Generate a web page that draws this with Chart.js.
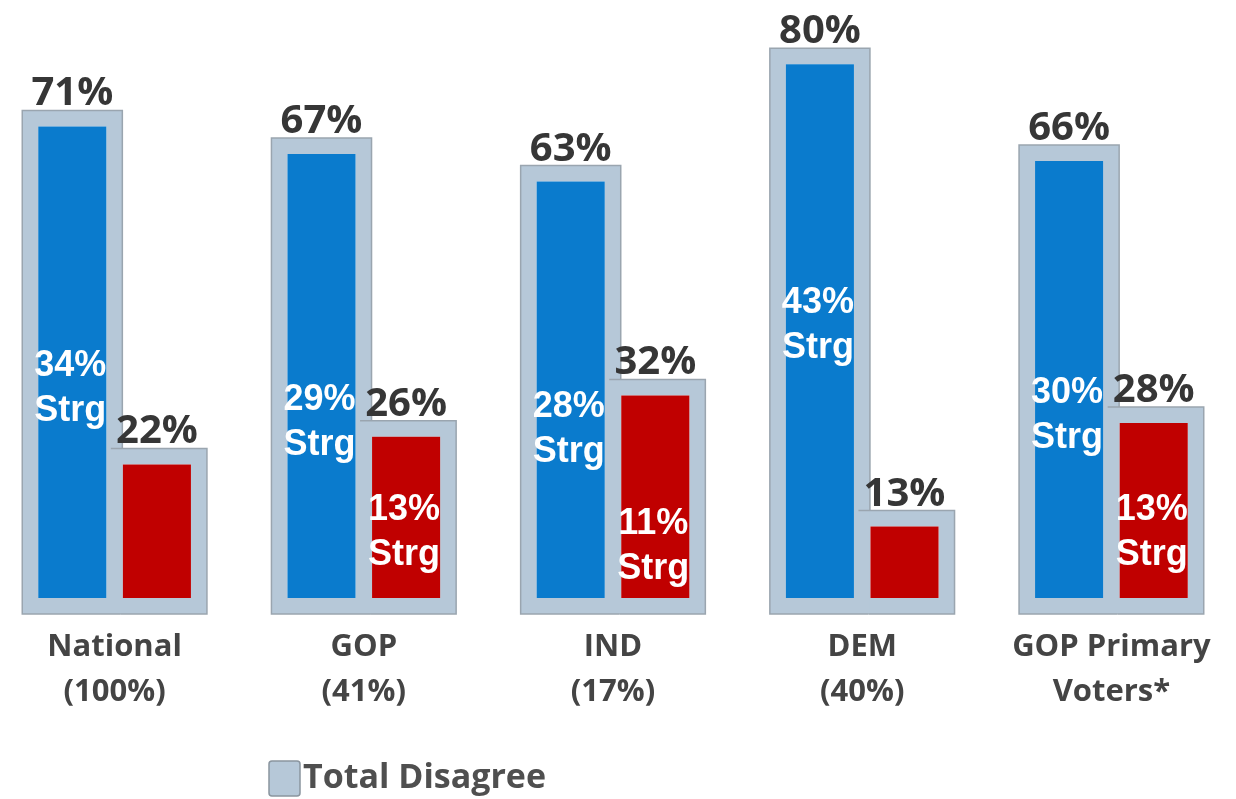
<!DOCTYPE html>
<html>
<head>
<meta charset="utf-8">
<script src="https://cdn.jsdelivr.net/npm/chart.js@4/dist/chart.umd.min.js"></script>
<style>
  html, body { margin: 0; padding: 0; background: #fff; overflow: hidden; }
  #wrap { position: absolute; left: -10px; top: 0; width: 1246px; height: 799px; }
</style>
</head>
<body>
<div id="wrap"><canvas id="disagreeChart"></canvas></div>
<script>
const categories = [['National', '(100%)'], ['GOP', '(41%)'], ['IND', '(17%)'], ['DEM', '(40%)'], ['GOP Primary', 'Voters*']];
const totalBlue = [71, 67, 63, 80, 66];
const totalRed = [22, 26, 32, 13, 28];
const strongBlue = [34, 29, 28, 43, 30];
const strongRed = [null, 13, 11, null, 13];
const axisFloor = -2;

const boxGray = '#b6c8d8';
const outlineGray = '#9aa5af';

// outlines, value labels on top, "Strg" labels inside, and the legend
const labelsPlugin = {
  id: 'labels',
  afterDatasetsDraw(chart) {
    const ctx = chart.ctx;
    const y = chart.scales.y;
    const strong = [strongBlue, strongRed];
    const totals = [totalBlue, totalRed];
    const redBars = chart.getDatasetMeta(1).data;
    ctx.save();
    chart.data.datasets.forEach((ds, di) => {
      chart.getDatasetMeta(di).data.forEach((bar, i) => {
        const l = bar.x - bar.width / 2, r = bar.x + bar.width / 2;
        ctx.strokeStyle = outlineGray;
        ctx.lineWidth = 1.5;
        ctx.beginPath();
        if (di === 0) {
          // right side stops where the red box begins
          ctx.moveTo(r, redBars[i].y);
          ctx.lineTo(r, bar.y);
          ctx.lineTo(l, bar.y);
          ctx.lineTo(l, bar.base);
          ctx.lineTo(redBars[i].x - redBars[i].width / 2 + 14, bar.base);
        } else {
          ctx.moveTo(l + 4, bar.y);
          ctx.lineTo(r, bar.y);
          ctx.lineTo(r, bar.base);
          ctx.lineTo(l + 14, bar.base);
        }
        ctx.stroke();

        ctx.fillStyle = '#363636';
        ctx.font = 'bold 40px "Open Sans"';
        ctx.textAlign = 'center';
        ctx.textBaseline = 'alphabetic';
        ctx.fillText(totals[di][i] + '%', bar.x, bar.y - 5);

        const s = strong[di][i];
        if (s != null) {
          const cy = y.getPixelForValue(s) + 22;
          ctx.fillStyle = '#ffffff';
          ctx.font = 'bold 36px "Liberation Sans", Arial';
          ctx.textBaseline = 'middle';
          ctx.fillText(s + '%', bar.x - 2, cy - 22);
          ctx.fillText('Strg', bar.x - 2, cy + 23);
        }
      });
    });

    // legend
    ctx.fillStyle = boxGray;
    ctx.strokeStyle = '#8a959f';
    ctx.lineWidth = 1.5;
    ctx.beginPath();
    ctx.roundRect(279, 761, 31, 35, 3);
    ctx.fill();
    ctx.stroke();
    ctx.fillStyle = '#4f4f4f';
    ctx.font = 'bold 34px "Open Sans"';
    ctx.textAlign = 'left';
    ctx.textBaseline = 'middle';
    ctx.fillText('Total Disagree', 313, 778);
    ctx.restore();
  }
};

new Chart(document.getElementById('disagreeChart').getContext('2d'), {
  type: 'bar',
  data: {
    labels: categories,
    datasets: [
      {
        label: 'Total Disagree',
        data: totalBlue.map(v => [axisFloor, v]),
        backgroundColor: '#0a7bcd',
        borderColor: boxGray,
        borderWidth: 16,
        borderSkipped: false
      },
      {
        label: 'Total Disagree',
        data: totalRed.map(v => [axisFloor, v]),
        backgroundColor: '#c00000',
        borderColor: boxGray,
        borderWidth: 16,
        borderSkipped: false
      }
    ]
  },
  options: {
    responsive: true,
    maintainAspectRatio: false,
    animation: false,
    events: [],
    layout: { padding: 0 },
    datasets: {
      bar: { barPercentage: 1.183, categoryPercentage: 0.679 }
    },
    plugins: {
      legend: { display: false },
      tooltip: { enabled: false }
    },
    scales: {
      x: {
        grid: { display: false },
        border: { display: false },
        ticks: {
          color: '#444',
          padding: 3,
          font: { family: 'Open Sans', weight: 'bold', size: 31, lineHeight: 1.45 }
        },
        afterFit(scale) { scale.height = 185; }
      },
      y: {
        display: false,
        min: axisFloor,
        max: 87
      }
    }
  },
  plugins: [labelsPlugin]
});
</script>
</body>
</html>
